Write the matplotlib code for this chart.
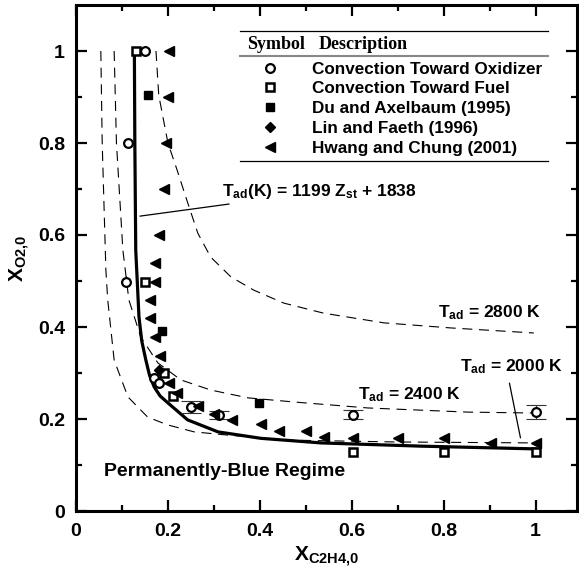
import numpy as np
import matplotlib.pyplot as plt
from matplotlib.lines import Line2D

plt.rcParams['font.family'] = ['Liberation Sans', 'DejaVu Sans']
plt.rcParams['font.weight'] = 'bold'
plt.rcParams['mathtext.fontset'] = 'custom'
plt.rcParams['mathtext.rm'] = 'Liberation Sans:bold'
plt.rcParams['mathtext.it'] = 'Liberation Sans:bold'
plt.rcParams['mathtext.bf'] = 'Liberation Sans:bold'

# Кривая T_ad(K) = 1199 Z_st + 1838 (сплошная)
sol_x = [0.127, 0.128, 0.130, 0.137, 0.143, 0.152, 0.160, 0.170, 0.183, 0.200, 0.243, 0.309, 0.402, 0.533, 0.750, 1.0]
sol_y = [1.0, 0.80, 0.567, 0.422, 0.370, 0.328, 0.295, 0.270, 0.250, 0.235, 0.198, 0.172, 0.158, 0.148, 0.141, 0.135]

# Изотермы T_ad (штриховые)
c2800_x = [0.174, 0.180, 0.200, 0.220, 0.243, 0.265, 0.293, 0.337, 0.387, 0.452, 0.539, 0.670, 0.815, 0.996]
c2800_y = [1.0, 0.904, 0.80, 0.741, 0.670, 0.604, 0.552, 0.509, 0.480, 0.452, 0.430, 0.409, 0.398, 0.387]
c2400_x = [0.083, 0.088, 0.102, 0.115, 0.141, 0.178, 0.228, 0.293, 0.374, 0.474, 0.635, 0.852, 0.996]
c2400_y = [1.0, 0.80, 0.567, 0.459, 0.378, 0.322, 0.285, 0.263, 0.246, 0.237, 0.224, 0.215, 0.213]
c2000_x = [0.054, 0.057, 0.065, 0.069, 0.083, 0.113, 0.156, 0.200, 0.257, 0.330, 0.467, 0.700, 1.0]
c2000_y = [1.0, 0.80, 0.524, 0.459, 0.328, 0.248, 0.204, 0.187, 0.172, 0.165, 0.154, 0.150, 0.148]

# Экспериментальные точки
oxid_x = [0.150, 0.113, 0.109, 0.170, 0.180]
oxid_y = [1.0, 0.80, 0.498, 0.289, 0.278]
oxid_err = [0.0, 0.01, 0.012, 0.0, 0.0]
oxbar_x = [0.250, 0.311, 0.602, 1.0]
oxbar_y = [0.226, 0.209, 0.209, 0.215]
oxbar_err = [0.013, 0.009, 0.010, 0.015]

fuel_x = [0.130, 0.150, 0.192, 0.211, 0.602, 0.80, 1.0]
fuel_y = [1.0, 0.498, 0.300, 0.250, 0.128, 0.128, 0.128]

du_x = [0.157, 0.187, 0.398]
du_y = [0.904, 0.391, 0.235]

lin_x = [0.180]
lin_y = [0.306]

hwang_x = [0.203, 0.200, 0.196, 0.191, 0.180, 0.172, 0.172, 0.161, 0.161, 0.172, 0.183, 0.202, 0.220,
           0.265, 0.300, 0.340, 0.402, 0.441, 0.500, 0.540, 0.602, 0.700, 0.800, 0.902, 1.0]
hwang_y = [1.0, 0.90, 0.80, 0.70, 0.60, 0.54, 0.498, 0.459, 0.42, 0.378, 0.337, 0.278, 0.257,
           0.228, 0.21, 0.198, 0.19, 0.173, 0.173, 0.16, 0.158, 0.158, 0.158, 0.148, 0.148]

legend_labels = ['Convection Toward Oxidizer', 'Convection Toward Fuel', 'Du and Axelbaum (1995)',
                 'Lin and Faeth (1996)', 'Hwang and Chung (2001)']

fig = plt.figure(figsize=(5.79, 5.68), dpi=100)
ax = fig.add_axes([76 / 579, 57 / 568, 501 / 579, 506 / 568])

dash = (9, 6)
ax.plot(c2000_x, c2000_y, color='black', lw=0.8, dashes=dash)
ax.plot(c2400_x, c2400_y, color='black', lw=0.8, dashes=dash)
ax.plot(c2800_x, c2800_y, color='black', lw=0.8, dashes=dash)
ax.plot(sol_x, sol_y, color='black', lw=2.3, solid_joinstyle='round')

ax.errorbar(oxid_x, oxid_y, yerr=oxid_err, fmt='none', ecolor='black', elinewidth=0.8, capsize=0)
ax.errorbar(oxbar_x, oxbar_y, yerr=oxbar_err, fmt='none', ecolor='#333333', elinewidth=0.8,
            capsize=7, capthick=0.8)
mk_ox = dict(marker='o', ms=6.3, mfc='white', mec='black', mew=1.6, ls='none')
mk_fu = dict(marker='s', ms=5.3, mfc='white', mec='black', mew=1.8, ls='none')
mk_du = dict(marker='s', ms=5.8, mfc='black', mec='black', ls='none')
mk_li = dict(marker='D', ms=5.2, mfc='black', mec='black', ls='none')
mk_hw = dict(marker='<', ms=7.0, mfc='black', mec='black', ls='none')
ax.plot(oxid_x, oxid_y, **mk_ox)
ax.plot(oxbar_x, oxbar_y, **mk_ox)
ax.plot(fuel_x, fuel_y, **mk_fu)
ax.plot(du_x, du_y, **mk_du)
ax.plot(lin_x, lin_y, **mk_li)
ax.plot(hwang_x, hwang_y, **mk_hw)

# Оси
ax.set_xlim(0, 1.09)
ax.set_ylim(0, 1.1)
ax.set_xticks(np.arange(0, 1.01, 0.2))
ax.set_xticks(np.arange(0.1, 1.09, 0.2), minor=True)
ax.set_yticks(np.arange(0, 1.01, 0.2))
ax.set_yticks(np.arange(0.1, 1.1, 0.2), minor=True)
ticklabels = ['0', '0.2', '0.4', '0.6', '0.8', '1']
ax.set_xticklabels(ticklabels)
ax.set_yticklabels(ticklabels)
ax.tick_params(which='both', direction='in', top=True, right=True, width=1.6, labelsize=14)
ax.tick_params(which='major', length=8)
ax.tick_params(which='minor', length=4)
ax.tick_params(axis='x', pad=9)
ax.tick_params(axis='y', pad=8)
for sp in ax.spines.values():
    sp.set_linewidth(2.2)

ax.set_xlabel(r'X$_{\mathrm{C2H4{,}0}}$', fontsize=15, fontweight='bold', labelpad=3)
ax.set_ylabel(r'X$_{\mathrm{O2{,}0}}$', fontsize=15, fontweight='bold', labelpad=4)

# Подписи
ax.annotate(r'T$_{\mathrm{ad}}$(K) = 1199 Z$_{\mathrm{st}}$ + 1838', xy=(0.139, 0.641), xytext=(0.318, 0.694),
            fontsize=12.5, va='center', ha='left',
            arrowprops=dict(arrowstyle='-', lw=0.9, color='black', shrinkA=0, shrinkB=0))
ax.text(0.787, 0.432, r'T$_{\mathrm{ad}}$ = 2800 K', fontsize=12.5, va='center')
ax.text(0.614, 0.253, r'T$_{\mathrm{ad}}$ = 2400 K', fontsize=12.5, va='center')
ax.text(0.835, 0.313, r'T$_{\mathrm{ad}}$ = 2000 K', fontsize=12.5, va='center')
ax.annotate('', xy=(0.967, 0.159), xytext=(0.943, 0.278),
            arrowprops=dict(arrowstyle='-', lw=0.9, color='black', shrinkA=0, shrinkB=0))
ax.text(0.061, 0.085, 'Permanently-Blue Regime', fontsize=14, va='center')

# Легенда в виде таблицы
handles = [Line2D([], [], **mk_ox), Line2D([], [], **mk_fu), Line2D([], [], **mk_du),
           Line2D([], [], **mk_li), Line2D([], [], **mk_hw)]
ax.legend(handles, legend_labels, loc='upper left', bbox_to_anchor=(0.362, 0.888), frameon=False,
          fontsize=12.3, borderpad=0, borderaxespad=0, handlelength=1.5, handletextpad=1.7,
          labelspacing=0.28)
ax.plot([0.327, 0.942], [0.9486, 0.9486], color='black', lw=0.9, transform=ax.transAxes)
ax.plot([0.327, 0.942], [0.899, 0.899], color='#888888', lw=1.5, transform=ax.transAxes)
ax.plot([0.327, 0.942], [0.692, 0.692], color='black', lw=0.9, transform=ax.transAxes)
ax.text(0.341, 0.922, 'Symbol', fontsize=13, family='Liberation Serif', weight='bold',
        va='center', transform=ax.transAxes)
ax.text(0.485, 0.922, 'Description', fontsize=13, family='Liberation Serif', weight='bold',
        va='center', transform=ax.transAxes)

plt.savefig('out.png', dpi=100)
